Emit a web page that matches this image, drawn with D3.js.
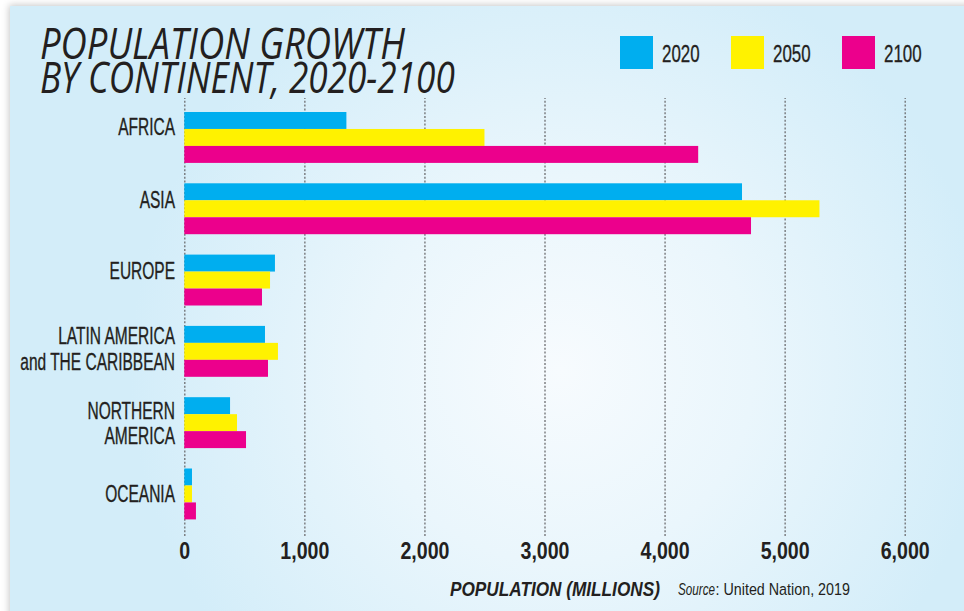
<!DOCTYPE html>
<html>
<head>
<meta charset="utf-8">
<script src="https://cdn.jsdelivr.net/npm/d3@7"></script>
<style>
  html, body { margin: 0; padding: 0; background: #ffffff; overflow: hidden; }
  svg { display: block; }
</style>
</head>
<body>
<svg id="chart" width="964" height="611"></svg>
<script>
// ---- data (millions of people) ----
const categories = ["AFRICA", "ASIA", "EUROPE", "LATIN AMERICA\nand THE CARIBBEAN", "NORTHERN\nAMERICA", "OCEANIA"];
const years = ["2020", "2050", "2100"];
const values2020 = [1350, 4645, 755, 672, 381, 64];
const values2050 = [2500, 5290, 714, 780, 439, 64];
const values2100 = [4280, 4720, 647, 697, 514, 97];
const xTicks = [0, 1000, 2000, 3000, 4000, 5000, 6000];

// ---- layout / style ----
const colors = { "2020": "#00aeef", "2050": "#fff200", "2100": "#ec008c" };
const ink = "#231f20";
const bodyFont = "'Liberation Sans', Arial, sans-serif";
const titleFont = "'Open Sans', 'Noto Sans', sans-serif";
// baseline offsets of each label line, measured from the top of its bar group
const labelBaselines = [[23.5], [24.5], [24.5], [18, 44], [21.7, 47.3], [34]];

const seriesByYear = { "2020": values2020, "2050": values2050, "2100": values2100 };
const rows = categories.map((c, i) => ({
  name: c,
  values: years.map(y => ({ year: y, value: seriesByYear[y][i] }))
}));

const svg = d3.select("#chart");
const defs = svg.append("defs");

// soft panel shadow
const shadow = defs.append("filter").attr("id", "panelShadow")
  .attr("x", "-5%").attr("y", "-5%").attr("width", "110%").attr("height", "110%");
shadow.append("feDropShadow").attr("dx", -1).attr("dy", -1)
  .attr("stdDeviation", 3.5).attr("flood-color", "#000").attr("flood-opacity", 0.22);

// light centre fading out to pale sky blue
const bg = defs.append("radialGradient").attr("id", "panelFill")
  .attr("gradientUnits", "userSpaceOnUse")
  .attr("cx", 560).attr("cy", 370).attr("r", 430);
bg.append("stop").attr("offset", "0%").attr("stop-color", "#f7fbfe");
bg.append("stop").attr("offset", "45%").attr("stop-color", "#eaf6fc");
bg.append("stop").attr("offset", "100%").attr("stop-color", "#d3edf9");

svg.append("rect")
  .attr("x", 10).attr("y", 6).attr("width", 980).attr("height", 640)
  .attr("fill", "url(#panelFill)")
  .attr("filter", "url(#panelShadow)");

// text helper: condensed either by a fixed factor (sx) or squeezed to a set width
function label(parent, x, y, str, opts) {
  const g = parent.append("g");
  const t = g.append("text")
    .attr("x", 0).attr("y", 0)
    .attr("text-anchor", opts.anchor || "start")
    .attr("font-family", opts.family || bodyFont)
    .attr("font-size", opts.size)
    .attr("font-weight", opts.weight || 400)
    .attr("font-style", opts.style || "normal")
    .attr("fill", ink)
    .attr("stroke", ink)
    .attr("stroke-width", opts.stroke || 0)
    .text(str);
  let sx = opts.sx || 1;
  if (opts.width) sx = opts.width / t.node().getComputedTextLength();
  g.attr("transform", `translate(${x},${y}) scale(${sx},1)`);
  return t;
}

// ---- title ----
label(svg, 40, 59, "POPULATION GROWTH",
  { family: titleFont, size: 43, style: "italic", width: 365 });
label(svg, 40, 93, "BY CONTINENT, 2020-2100",
  { family: titleFont, size: 43, style: "italic", width: 415 });

// ---- legend ----
const legendX = d3.scalePoint().domain(years).range([620, 842]);
years.forEach(y => {
  svg.append("rect")
    .attr("x", legendX(y)).attr("y", 36)
    .attr("width", 33).attr("height", 33)
    .attr("fill", colors[y]);
  label(svg, legendX(y) + 42, 62, y, { size: 23.5, sx: 0.72, stroke: 0.3 });
});

// ---- scales ----
const x = d3.scaleLinear().domain([0, 6000]).range([184.3, 904.7]);
const y0 = d3.scaleBand().domain(categories)
  .range([101.8, 529.6]).paddingInner(0.286).paddingOuter(0.143);
const y1 = d3.scaleBand().domain(years).range([0, y0.bandwidth()]);

// ---- grid + x axis ----
const gridTop = 98, axisY = 536;
const axis = svg.append("g")
  .attr("transform", `translate(0,${axisY})`)
  .call(d3.axisBottom(x)
    .tickValues(xTicks)
    .tickSize(-(axisY - gridTop))
    .tickFormat(d3.format(",")));
axis.select(".domain").remove();
axis.selectAll(".tick line")
  .attr("stroke", "#6d6e71")
  .attr("stroke-width", 1.3)
  .attr("stroke-dasharray", "2,1.8");
axis.selectAll(".tick text")
  .attr("y", 23).attr("dy", 0)
  .attr("transform", "scale(0.8,1)")
  .attr("font-family", bodyFont)
  .attr("font-size", 24.5)
  .attr("font-weight", 700)
  .attr("fill", ink);

// ---- bars ----
const groups = svg.append("g").selectAll("g")
  .data(rows).join("g")
  .attr("transform", d => `translate(0,${y0(d.name)})`);

groups.selectAll("rect")
  .data(d => d.values).join("rect")
  .attr("x", x(0))
  .attr("y", d => y1(d.year))
  .attr("height", y1.bandwidth())
  .attr("width", d => x(d.value) - x(0))
  .attr("fill", d => colors[d.year]);

// ---- category labels ----
rows.forEach((r, i) => {
  const top = y0(r.name);
  r.name.split("\n").forEach((line, j) => {
    label(svg, 175, top + labelBaselines[i][j], line,
      { size: 23.5, sx: 0.66, anchor: "end", stroke: 0.35 });
  });
});

// ---- axis title + source ----
label(svg, 450, 596, "POPULATION (MILLIONS)",
  { size: 21, weight: 700, style: "italic", width: 210 });
label(svg, 678, 595, "Source", { size: 16.5, style: "italic", width: 37 });
label(svg, 715.5, 595, ": United Nation, 2019", { size: 16.5, width: 134.5 });
</script>
</body>
</html>
